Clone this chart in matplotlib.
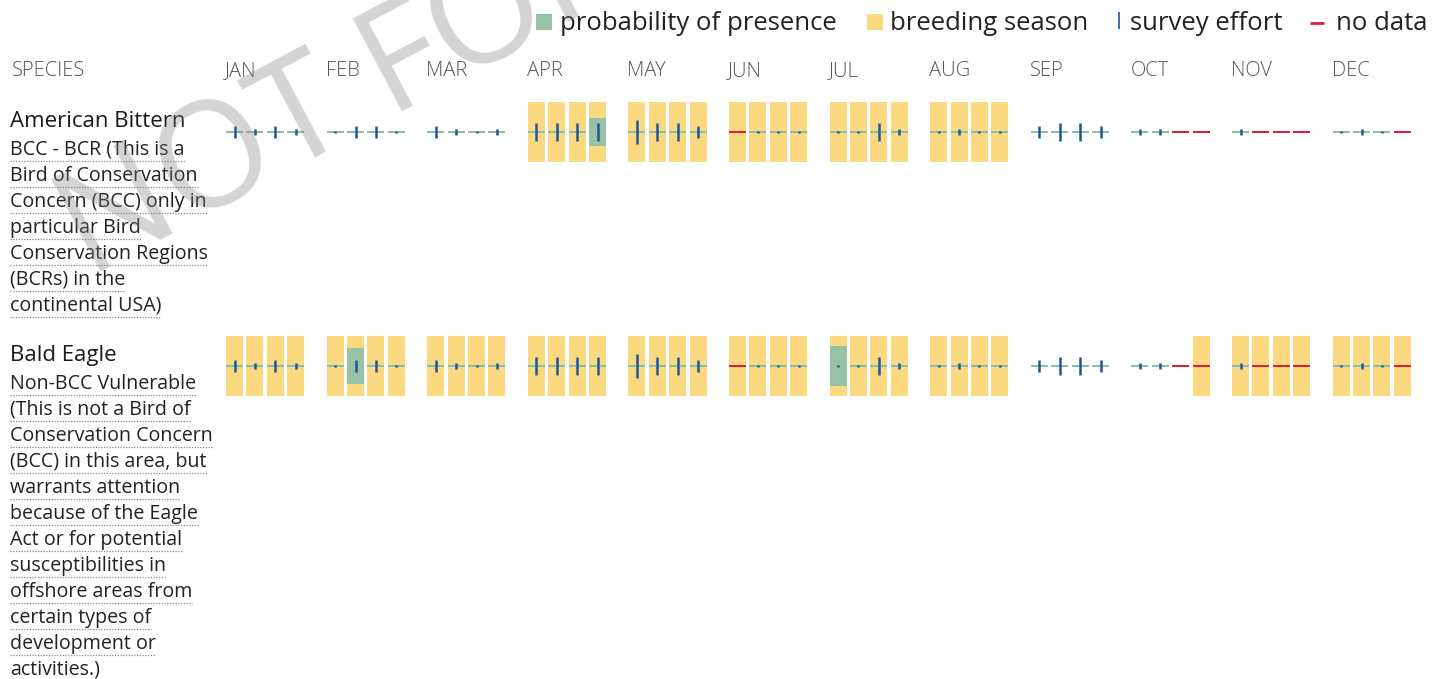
import matplotlib
matplotlib.use("Agg")
import matplotlib.pyplot as plt

# ---------------- data ----------------
months = ["JAN", "FEB", "MAR", "APR", "MAY", "JUN",
          "JUL", "AUG", "SEP", "OCT", "NOV", "DEC"]

species_names = ["American Bittern", "Bald Eagle"]

bittern_desc = ["BCC - BCR (This is a",
                "Bird of Conservation",
                "Concern (BCC) only in",
                "particular Bird",
                "Conservation Regions",
                "(BCRs) in the",
                "continental USA)"]

eagle_desc = ["Non-BCC Vulnerable",
              "(This is not a Bird of",
              "Conservation Concern",
              "(BCC) in this area, but",
              "warrants attention",
              "because of the Eagle",
              "Act or for potential",
              "susceptibilities in",
              "offshore areas from",
              "certain types of",
              "development or",
              "activities.)"]

# survey effort level per week (4 weeks per month); None = no data
bittern_effort = [2, 1, 2, 1,   0, 2, 2, 0,   2, 1, 0, 1,   3, 3, 3, 3,
                  4, 3, 3, 2,   None, 0, 0, 0,   0, 0, 3, 1,   0, 1, 0, 0,
                  2, 3, 3, 2,   1, 1, None, None,   1, None, None, None,   0, 1, 0, None]
eagle_effort = [2, 1, 2, 1,   0, 2, 2, 0,   2, 1, 0, 1,   3, 3, 3, 3,
                4, 3, 3, 2,   None, 0, 0, 0,   0, 0, 3, 1,   0, 1, 0, 0,
                2, 3, 3, 2,   1, 1, None, None,   1, None, None, None,   0, 1, 0, None]

# probability of presence per week (fraction of full bar height)
bittern_presence = [0, 0, 0, 0,   0, 0, 0, 0,   0, 0, 0, 0,   0, 0, 0, 0.47,
                    0, 0, 0, 0,   0, 0, 0, 0,   0, 0, 0, 0,   0, 0, 0, 0,
                    0, 0, 0, 0,   0, 0, 0, 0,   0, 0, 0, 0,   0, 0, 0, 0]
eagle_presence = [0, 0, 0, 0,   0, 0.6, 0, 0,   0, 0, 0, 0,   0, 0, 0, 0,
                  0, 0, 0, 0,   0, 0, 0, 0,   0.67, 0, 0, 0,   0, 0, 0, 0,
                  0, 0, 0, 0,   0, 0, 0, 0,   0, 0, 0, 0,   0, 0, 0, 0]

# breeding season flag per week
bittern_breeding = [0, 0, 0, 0,   0, 0, 0, 0,   0, 0, 0, 0,   1, 1, 1, 1,
                    1, 1, 1, 1,   1, 1, 1, 1,   1, 1, 1, 1,   1, 1, 1, 1,
                    0, 0, 0, 0,   0, 0, 0, 0,   0, 0, 0, 0,   0, 0, 0, 0]
eagle_breeding = [1, 1, 1, 1,   1, 1, 1, 1,   1, 1, 1, 1,   1, 1, 1, 1,
                  1, 1, 1, 1,   1, 1, 1, 1,   1, 1, 1, 1,   1, 1, 1, 1,
                  0, 0, 0, 0,   0, 0, 0, 1,   1, 1, 1, 1,   1, 1, 1, 1]

legend_labels = ["probability of presence", "breeding season",
                 "survey effort", "no data"]

watermark = "NOT FOR CONSULTATION"

# ---------------- styles / layout ----------------
W, H = 1446, 679
YELLOW = "#FAD981"
GREEN = "#97C2A6"
TEAL = "#88BEAE"
BLUE = "#1F5797"
RED = "#E11D38"
FONT = ["Open Sans", "DejaVu Sans"]

GRID_X0 = 226.0
MONTH_PITCH = 100.6
WEEK_PITCH = 20.4
BAR_W = 17.0
BAR_H = 60.0
ROW_CENTER = [132.0, 366.0]
NAME_BASE = [127.0, 361.0]
DESC_BASE0 = [155.0, 389.0]
LINE_STEP = 26.0
TEXT_X = 10.0

fig = plt.figure(figsize=(W / 100, H / 100), dpi=100)
ax = fig.add_axes([0, 0, 1, 1])
ax.set_xlim(0, W)
ax.set_ylim(H, 0)
ax.axis("off")


def week_x(i):
    m, w = divmod(i, 4)
    return GRID_X0 + m * MONTH_PITCH + w * WEEK_PITCH


rows = [
    (bittern_effort, bittern_presence, bittern_breeding),
    (eagle_effort, eagle_presence, eagle_breeding),
]

for r, (effort, presence, breeding) in enumerate(rows):
    cy = ROW_CENTER[r]
    xs = [week_x(i) for i in range(len(effort))]
    # breeding season bars
    bx = [x for x, b in zip(xs, breeding) if b]
    ax.bar(bx, BAR_H, width=BAR_W, bottom=cy - BAR_H / 2, align="edge",
           color=YELLOW, linewidth=0, zorder=1)
    # presence baseline (weeks with data)
    dx = [x for x, e in zip(xs, effort) if e is not None]
    ax.bar(dx, 2.4, width=BAR_W, bottom=cy - 1.2, align="edge",
           color=TEAL, linewidth=0, zorder=2)
    # probability of presence boxes
    px = [x for x, p in zip(xs, presence) if p > 0]
    ph = [p * BAR_H for p in presence if p > 0]
    ax.bar(px, ph, width=BAR_W, bottom=[cy - h / 2 for h in ph], align="edge",
           color=GREEN, linewidth=0, zorder=3)
    # no data
    nx = [x for x, e in zip(xs, effort) if e is None]
    ax.bar(nx, 2.8, width=BAR_W, bottom=cy - 1.4, align="edge",
           color=RED, linewidth=0, zorder=3)
    # survey effort
    ex = [x + BAR_W / 2 for x, e in zip(xs, effort) if e is not None]
    eh = [max(1.1, 2.9 * e) for e in effort if e is not None]
    ax.vlines(ex, [cy - h for h in eh], [cy + h for h in eh],
              colors=BLUE, linewidth=1.8, zorder=4, capstyle="butt")

# header
ax.text(12, 76, "SPECIES", fontsize=14.5, color="#555555", family=FONT,
        fontweight="light", va="baseline", ha="left")
for m, name in enumerate(months):
    ax.text(GRID_X0 + m * MONTH_PITCH - 1, 76, name, fontsize=14.5,
            color="#555555", family=FONT, fontweight="light",
            va="baseline", ha="left")

# species names and descriptions
desc_texts = []
for r, (name, desc) in enumerate(zip(species_names, [bittern_desc, eagle_desc])):
    ax.text(TEXT_X, NAME_BASE[r], name, fontsize=16, color="#1a1a1a",
            family=FONT, va="baseline", ha="left")
    for k, line in enumerate(desc):
        yb = DESC_BASE0[r] + k * LINE_STEP
        t = ax.text(TEXT_X, yb, line, fontsize=14.1, color="#222222",
                    family=FONT, va="baseline", ha="left")
        desc_texts.append((t, yb))

# legend
ax.bar([536], 16, width=16, bottom=14, align="edge", color=GREEN, linewidth=0)
ax.text(560, 30, legend_labels[0], fontsize=18.5, color="#222222",
        family=FONT, va="baseline", ha="left")
ax.bar([867], 16, width=16, bottom=14, align="edge", color=YELLOW, linewidth=0)
ax.text(890, 30, legend_labels[1], fontsize=18.5, color="#222222",
        family=FONT, va="baseline", ha="left")
ax.vlines([1119], 12, 29, colors=BLUE, linewidth=1.2)
ax.text(1130, 30, legend_labels[2], fontsize=18.5, color="#222222",
        family=FONT, va="baseline", ha="left")
ax.hlines([23], 1310, 1324, colors=RED, linewidth=2)
ax.text(1336, 30, legend_labels[3], fontsize=18.5, color="#222222",
        family=FONT, va="baseline", ha="left")

# dotted underlines under descriptions
fig.canvas.draw()
renderer = fig.canvas.get_renderer()
for t, yb in desc_texts:
    bb = t.get_window_extent(renderer)
    ax.hlines([yb + 6], bb.x0, bb.x1, colors="#8a8a8a", linewidth=0.9,
              linestyles=(0, (1, 1.2)))

# watermark
ax.text(89, 278, watermark, fontsize=105, color="#808080", alpha=0.34,
        family=FONT, rotation=28, rotation_mode="anchor",
        va="baseline", ha="left", zorder=10)

fig.savefig("out.png", dpi=100)
